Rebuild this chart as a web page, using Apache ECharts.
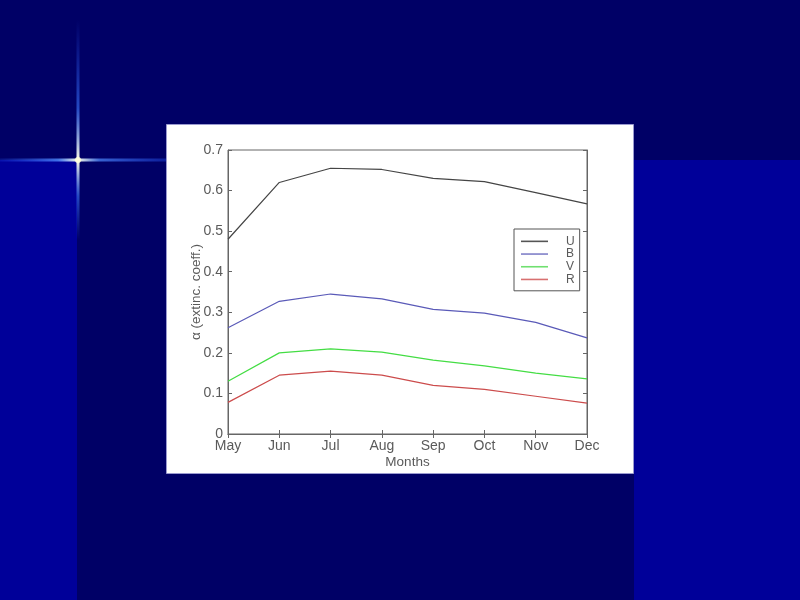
<!DOCTYPE html>
<html>
<head>
<meta charset="utf-8">
<script src="https://cdn.jsdelivr.net/npm/echarts@6/dist/echarts.min.js"></script>
<style>
html,body{margin:0;padding:0;background:#000066;}
#chart{width:800px;height:600px;}
</style>
</head>
<body>
<div id="chart"></div>
<script>
const months = ['May','Jun','Jul','Aug','Sep','Oct','Nov','Dec'];
const seriesNames = ['U','B','V','R'];
const uValues = [0.48, 0.62, 0.655, 0.652, 0.630, 0.622, 0.595, 0.567];
const bValues = [0.262, 0.327, 0.345, 0.333, 0.307, 0.298, 0.275, 0.237];
const vValues = [0.130, 0.200, 0.210, 0.202, 0.182, 0.168, 0.150, 0.136];
const rValues = [0.078, 0.145, 0.155, 0.145, 0.120, 0.110, 0.093, 0.076];
const yTicks = [0, 0.1, 0.2, 0.3, 0.4, 0.5, 0.6, 0.7];

const colors = ['#454545', '#5a5ab8', '#44dd44', '#cc4c4c'];
const legendColors = ['#555555', '#8080c8', '#70e070', '#d87070'];
const allValues = [uValues, bValues, vValues, rValues];

const chart = echarts.init(document.getElementById('chart'), null, {renderer:'canvas'});
const font = 'Liberation Sans, Arial, sans-serif';
const gray = '#5a5a5a';

const option = {
  backgroundColor: '#000066',
  animation: false,
  color: colors,
  graphic: { elements: [
    {type:'rect', z:-5, shape:{x:0,y:160,width:77,height:440}, style:{fill:'#000099'}},
    {type:'rect', z:-5, shape:{x:634,y:160,width:166,height:440}, style:{fill:'#000099'}},
    {type:'rect', z:-5, shape:{x:0,y:158.5,width:166,height:3}, style:{fill:new echarts.graphic.LinearGradient(0,0,1,0,[
      {offset:0,color:'rgba(40,90,255,0.2)'},{offset:0.35,color:'rgba(80,140,255,0.8)'},{offset:0.47,color:'rgba(255,255,230,1)'},{offset:0.6,color:'rgba(80,140,255,0.7)'},{offset:1,color:'rgba(40,90,255,0.35)'}])}},
    {type:'rect', z:-5, shape:{x:76.5,y:20,width:3,height:220}, style:{fill:new echarts.graphic.LinearGradient(0,0,0,1,[
      {offset:0,color:'rgba(40,90,255,0)'},{offset:0.4,color:'rgba(60,120,255,0.6)'},{offset:0.636,color:'rgba(255,255,230,1)'},{offset:0.8,color:'rgba(60,120,255,0.6)'},{offset:1,color:'rgba(40,90,255,0)'}])}},
    {type:'circle', z:-4, shape:{cx:78,cy:160,r:3}, style:{fill:'rgba(255,255,220,0.9)'}},
    {type:'rect', z:-3, shape:{x:166.5,y:124.5,width:467,height:349}, style:{fill:'#ffffff', stroke:'#9a9ad0', lineWidth:1}}
  ]},
  grid: {left:228, top:150, width:359, height:284, show:true, backgroundColor:'#ffffff', borderColor:'#666666', borderWidth:1, containLabel:false},
  legend: {
    orient:'vertical', left:514, top:229,
    data: seriesNames.map((n,i) => ({name:n, icon:'rect', itemStyle:{color:legendColors[i], borderWidth:0}, lineStyle:{color:legendColors[i], width:0}})),
    padding:[6,5,5,7], itemGap:0, itemWidth:27, itemHeight:1.6,
    backgroundColor:'#ffffff', borderColor:'#555555', borderWidth:1,
    textStyle:{fontFamily:font, fontSize:12, color:gray, lineHeight:12.7, padding:[0,0,0,13]}
  },
  xAxis: [
    {type:'category', data:months, boundaryGap:false,
     name:'Months', nameLocation:'middle', nameGap:21,
     nameTextStyle:{fontFamily:font, fontSize:13.5, color:gray},
     axisLine:{lineStyle:{color:'#666666'}},
     axisTick:{inside:true, length:4, lineStyle:{color:'#666666'}},
     axisLabel:{fontFamily:font, fontSize:14, color:gray, margin:5},
     splitLine:{show:false}},
    {type:'category', data:months, boundaryGap:false, position:'top',
     axisLine:{lineStyle:{color:'#666666'}},
     axisTick:{inside:true, length:4, lineStyle:{color:'#666666'}},
     axisLabel:{show:false}}
  ],
  yAxis: [
    {type:'value', min:0, max:0.7, interval:0.1,
     name:'\u03b1 (extinc. coeff.)', nameLocation:'middle', nameGap:25, nameRotate:90,
     nameMoveOverlap:false,
     nameTextStyle:{fontFamily:font, fontSize:13.5, color:gray},
     axisLine:{show:true, lineStyle:{color:'#666666'}},
     axisTick:{show:true, inside:true, length:4, lineStyle:{color:'#666666'}},
     axisLabel:{fontFamily:font, fontSize:14, color:gray, margin:5,
       formatter: v => { const t = yTicks.find(k => Math.abs(k-v)<1e-9); return t===0 ? '0' : String(Math.round(t*10)/10); }},
     splitLine:{show:false}},
    {type:'value', min:0, max:0.7, interval:0.1, position:'right',
     axisLine:{show:true, lineStyle:{color:'#666666'}},
     axisTick:{show:true, inside:true, length:4, lineStyle:{color:'#666666'}},
     axisLabel:{show:false}, splitLine:{show:false}}
  ],
  series: seriesNames.map((n,i) => ({
    name:n, type:'line', data:allValues[i], symbol:'none', showSymbol:false,
    color:colors[i],
    lineStyle:{color:colors[i], width:1.2}, itemStyle:{color:colors[i]}
  }))
};
chart.setOption(option);
</script>
</body>
</html>
